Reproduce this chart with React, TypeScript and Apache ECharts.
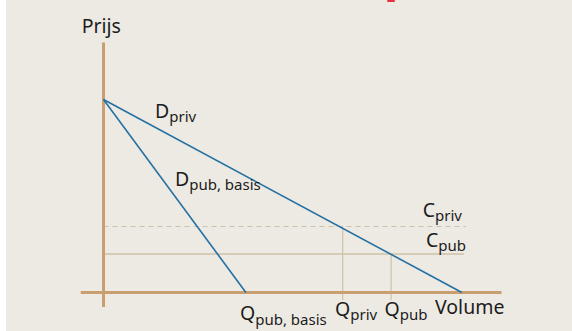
import React, { useEffect, useRef } from "react";
import * as echarts from "echarts";

// ---- data (chart units) ----
const demandPriv: [number, number][] = [[0, 77.2], [89.6, 0]];
const demandPubBasis: [number, number][] = [[0, 77.2], [35.6, 0]];
const costPriv: [number, number][] = [[0, 26.4], [90.6, 26.4]];
const costPub: [number, number][] = [[0, 15.4], [90.1, 15.4]];
const qPrivLine: [number, number][] = [[59.8, -3], [59.8, 26.4]];
const qPubLine: [number, number][] = [[71.9, -3], [71.9, 15.4]];
const priceAxis: [number, number][] = [[0, -5.8], [0, 100]];
const volumeAxis: [number, number][] = [[-5.7, 0], [99.5, 0]];
const axisTitles = ["Prijs", "Volume"];
const labelMains = ["D", "D", "C", "C", "Q", "Q", "Q"];
const labelSubs = ["priv", "pub, basis", "priv", "pub", "pub, basis", "priv", "pub"];

const FONT = '"Noto Sans", sans-serif';
const MAIN = 19.5;
const SUB = 15;
const TXT = "#1c1c1c";
const BLUE = "#2470a3";
const AXIS = "#c99e70";
const THIN = "#cfc1a8";

function measure(text: string, size: number) {
  const c = document.createElement("canvas").getContext("2d")!;
  c.font = `${size}px ${FONT}`;
  return c.measureText(text).width;
}

function txt(text: string, x: number, baseline: number, size: number) {
  return {
    type: "text",
    silent: true,
    z: 100,
    style: {
      text,
      x,
      y: baseline - 0.388 * size,
      fill: TXT,
      font: `${size}px ${FONT}`,
      textAlign: "left",
      verticalAlign: "middle",
      textVerticalAlign: "middle",
    },
  };
}

function subLabel(i: number, x: number, baseline: number) {
  const w = measure(labelMains[i], MAIN);
  return [txt(labelMains[i], x, baseline, MAIN), txt(labelSubs[i], x + w, baseline + 4, SUB)];
}

function lineSeries(data: [number, number][], color: string, width: number, type: any = "solid") {
  return {
    type: "line",
    data,
    symbol: "none",
    silent: true,
    lineStyle: { color, width, type },
  };
}

export default function App() {
  const ref = useRef<HTMLDivElement>(null);
  useEffect(() => {
    document.body.style.margin = "0";
    const chart = echarts.init(ref.current!, undefined, { renderer: "svg" });
    const labelPos: [number, number][] = [
      [155, 118.3],
      [175, 186],
      [422.7, 217.3],
      [426, 246.7],
      [240, 320.5],
      [335, 315.7],
      [384.5, 315.7],
    ];
    const graphics: any[] = [
      { type: "rect", shape: { x: 0, y: 0, width: 6, height: 331 }, style: { fill: "#ffffff" }, z: 200 },
      { type: "rect", shape: { x: 387, y: 0, width: 8, height: 2, r: 1 }, style: { fill: "#e63240" }, z: 200 },
      txt(axisTitles[0], 81.7, 33.3, MAIN),
      txt(axisTitles[1], 435, 314, MAIN),
    ];
    labelPos.forEach((p, i) => graphics.push(...subLabel(i, p[0], p[1])));

    chart.setOption({
      animation: false,
      backgroundColor: "#edeae3",
      grid: { left: 79.5, top: 42.5, width: 424, height: 270 },
      xAxis: { type: "value", min: -6, max: 100, show: false },
      yAxis: { type: "value", min: -8, max: 100, show: false },
      series: [
        lineSeries(costPriv, THIN, 1.2, [5, 4]),
        lineSeries(costPub, THIN, 1.5),
        lineSeries(qPrivLine, THIN, 1.2),
        lineSeries(qPubLine, THIN, 1.2),
        lineSeries(priceAxis, AXIS, 3),
        lineSeries(volumeAxis, AXIS, 3),
        lineSeries(demandPriv, BLUE, 1.6),
        lineSeries(demandPubBasis, BLUE, 1.6),
      ],
      graphic: graphics,
    });
    return () => chart.dispose();
  }, []);
  return <div ref={ref} style={{ width: 572, height: 331 }} />;
}
